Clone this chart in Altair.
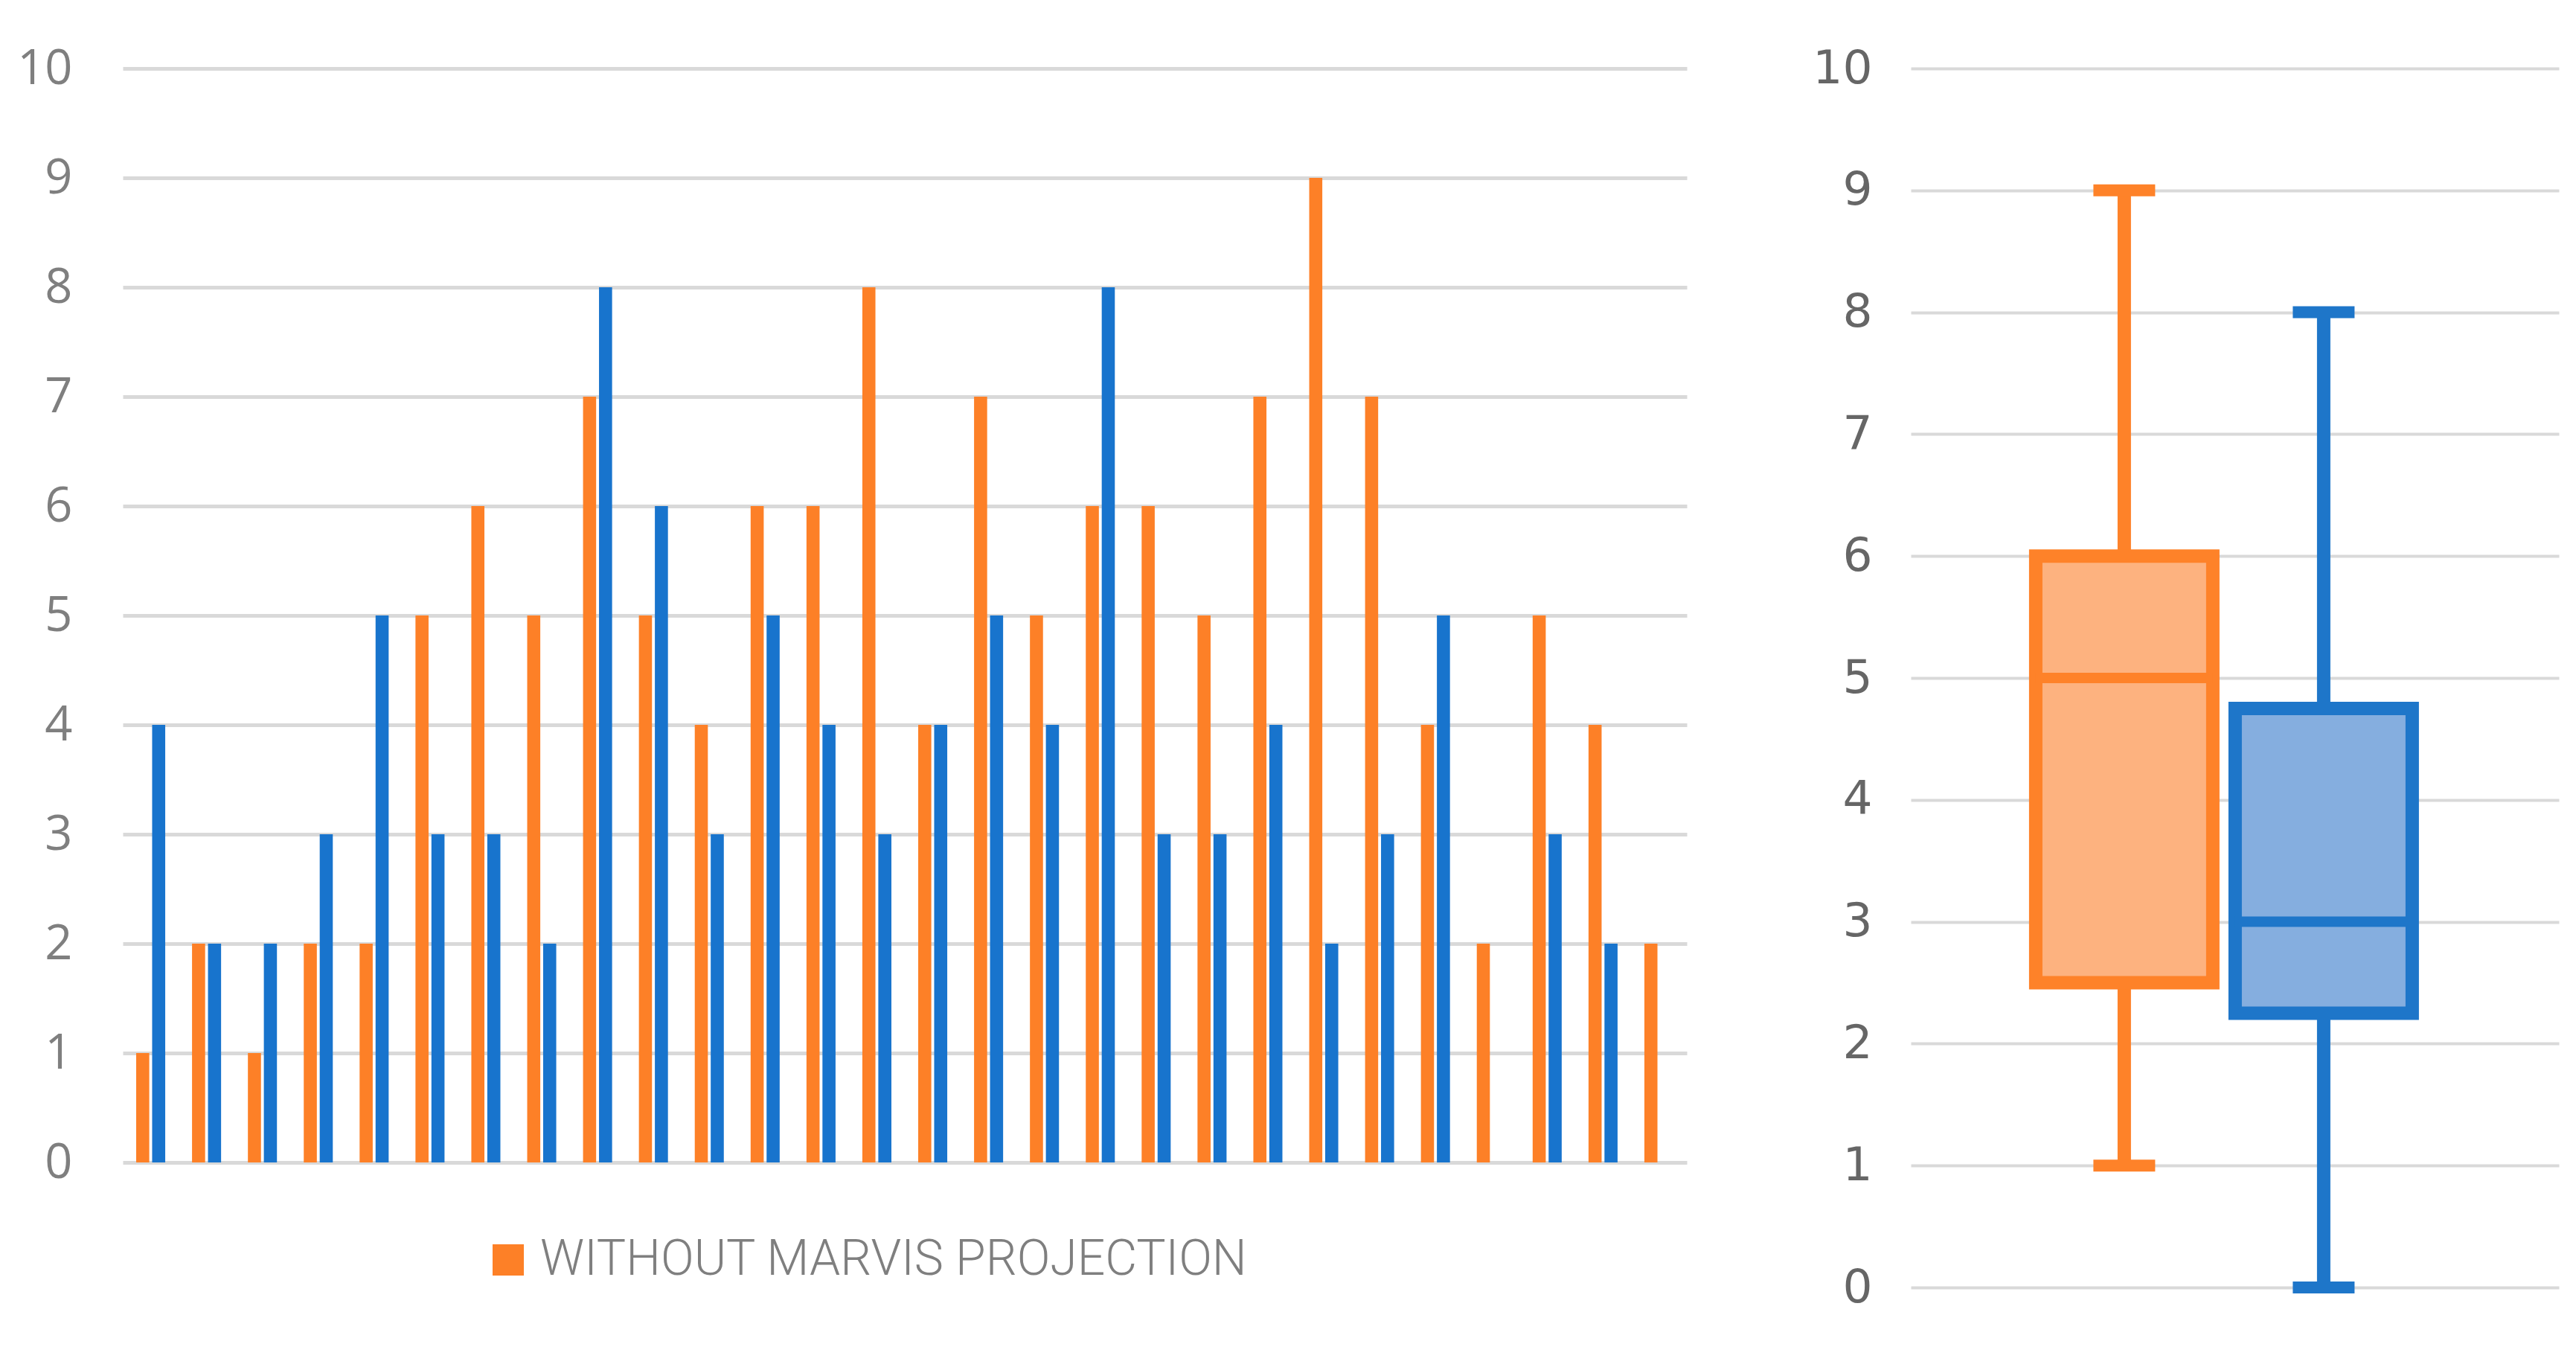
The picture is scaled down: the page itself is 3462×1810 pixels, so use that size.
import altair as alt
import pandas as pd

# ---- data ----
series_names = ["WITHOUT MARVIS PROJECTION", "WITH MARVIS PROJECTION"]
without_vals = [1, 2, 1, 2, 2, 5, 6, 5, 7, 5, 4, 6, 6, 8, 4, 7, 5, 6, 6, 5, 7, 9, 7, 4, 2, 5, 4, 2]
with_vals = [4, 2, 2, 3, 5, 3, 3, 2, 8, 6, 3, 5, 4, 3, 4, 5, 4, 8, 3, 3, 4, 2, 3, 5, 0, 3, 2, 0]
y_ticks = list(range(0, 11))

bar_colors = ["#FD8027", "#1874CD"]
box_fill = ["#FDB27F", "#85AEDF"]
box_stroke = ["#FE8229", "#1E76C9"]

# ---- tables ----
rows = []
for i, (a, b) in enumerate(zip(without_vals, with_vals)):
    rows.append({"idx": i + 1, "series": series_names[0], "value": a})
    rows.append({"idx": i + 1, "series": series_names[1], "value": b})
bars_df = pd.DataFrame(rows)


def excl_quantile(vals, p):
    s = sorted(vals)
    n = len(s)
    pos = p * (n + 1)
    lo = int(pos)
    frac = pos - lo
    lo = max(1, min(lo, n))
    hi = min(lo + 1, n)
    return s[lo - 1] + frac * (s[hi - 1] - s[lo - 1])


stats = []
for name, vals in zip(series_names, [without_vals, with_vals]):
    stats.append({
        "series": name,
        "min": min(vals),
        "q1": excl_quantile(vals, 0.25),
        "median": excl_quantile(vals, 0.5),
        "q3": excl_quantile(vals, 0.75),
        "max": max(vals),
    })
stats_df = pd.DataFrame(stats)

# ---- left: grouped bars ----
left = alt.Chart(bars_df).mark_bar().encode(
    x=alt.X("idx:O", axis=None,
            scale=alt.Scale(paddingInner=0.48, paddingOuter=0.24)),
    xOffset=alt.XOffset("series:N", sort=series_names,
                        scale=alt.Scale(paddingInner=0.18, paddingOuter=0)),
    y=alt.Y("value:Q", title=None,
            scale=alt.Scale(domain=[0, 10], nice=False),
            axis=alt.Axis(values=y_ticks, format="d", grid=True, gridColor="#D9D9D9", gridWidth=5,
                          domain=False, ticks=False, labelPadding=68,
                          labelFontSize=65, labelColor="#7F7F7F", labelFont="Open Sans")),
    color=alt.Color("series:N",
                    scale=alt.Scale(domain=series_names, range=bar_colors),
                    legend=alt.Legend(values=[series_names[0]], title=None,
                                      orient="none", legendX=485, legendY=1568,
                                      symbolType="square", symbolSize=1764,
                                      symbolStrokeWidth=0, symbolOpacity=1,
                                      labelFontSize=66, labelFont="Roboto",
                                      labelFontWeight=300, labelColor="#7F7F7F",
                                      labelOffset=10, labelLimit=3000)),
).properties(width=2102, height=1470)

# ---- right: box plots ----
box_w = 238
xs = alt.X("series:N", sort=series_names, axis=None,
           scale=alt.Scale(paddingInner=0.112, paddingOuter=0.681, align=0.46))
yscale = alt.Scale(domain=[0, 10], nice=False)
col_stroke = alt.Color("series:N", scale=alt.Scale(domain=series_names, range=box_stroke), legend=None)

base = alt.Chart(stats_df)
whisker = base.mark_rule(strokeWidth=18, opacity=1).encode(
    x=xs,
    y=alt.Y("min:Q", scale=yscale, title=None,
            axis=alt.Axis(values=y_ticks, format="d", grid=True, gridColor="#D9D9D9", gridWidth=4,
                          domain=False, ticks=False, labelPadding=52,
                          labelFontSize=63, labelColor="#666666", labelFont="DejaVu Sans")),
    y2="max:Q",
    color=col_stroke,
)
box = base.mark_bar(strokeWidth=18, opacity=1).encode(
    x=xs,
    y=alt.Y("q1:Q", scale=yscale),
    y2="q3:Q",
    fill=alt.Fill("series:N", scale=alt.Scale(domain=series_names, range=box_fill), legend=None),
    stroke=alt.Stroke("series:N", scale=alt.Scale(domain=series_names, range=box_stroke), legend=None),
)
median = base.mark_tick(size=box_w, thickness=14, opacity=1).encode(
    x=xs, y=alt.Y("median:Q", scale=yscale), color=col_stroke)
cap_lo = base.mark_tick(size=83, thickness=16, opacity=1).encode(
    x=xs, y=alt.Y("min:Q", scale=yscale), color=col_stroke)
cap_hi = base.mark_tick(size=83, thickness=16, opacity=1).encode(
    x=xs, y=alt.Y("max:Q", scale=yscale), color=col_stroke)

right = alt.layer(whisker, box, median, cap_lo, cap_hi).resolve_scale(
    color="shared").properties(width=871, height=1638)

chart = alt.hconcat(left, right, spacing=168).resolve_scale(
    color="independent", fill="independent", stroke="independent"
).properties(
    padding={"left": 14, "top": 52, "right": 5, "bottom": 5}
).configure_view(stroke=None)

chart.save("out.html", embed_options={"renderer": "svg", "actions": False})
